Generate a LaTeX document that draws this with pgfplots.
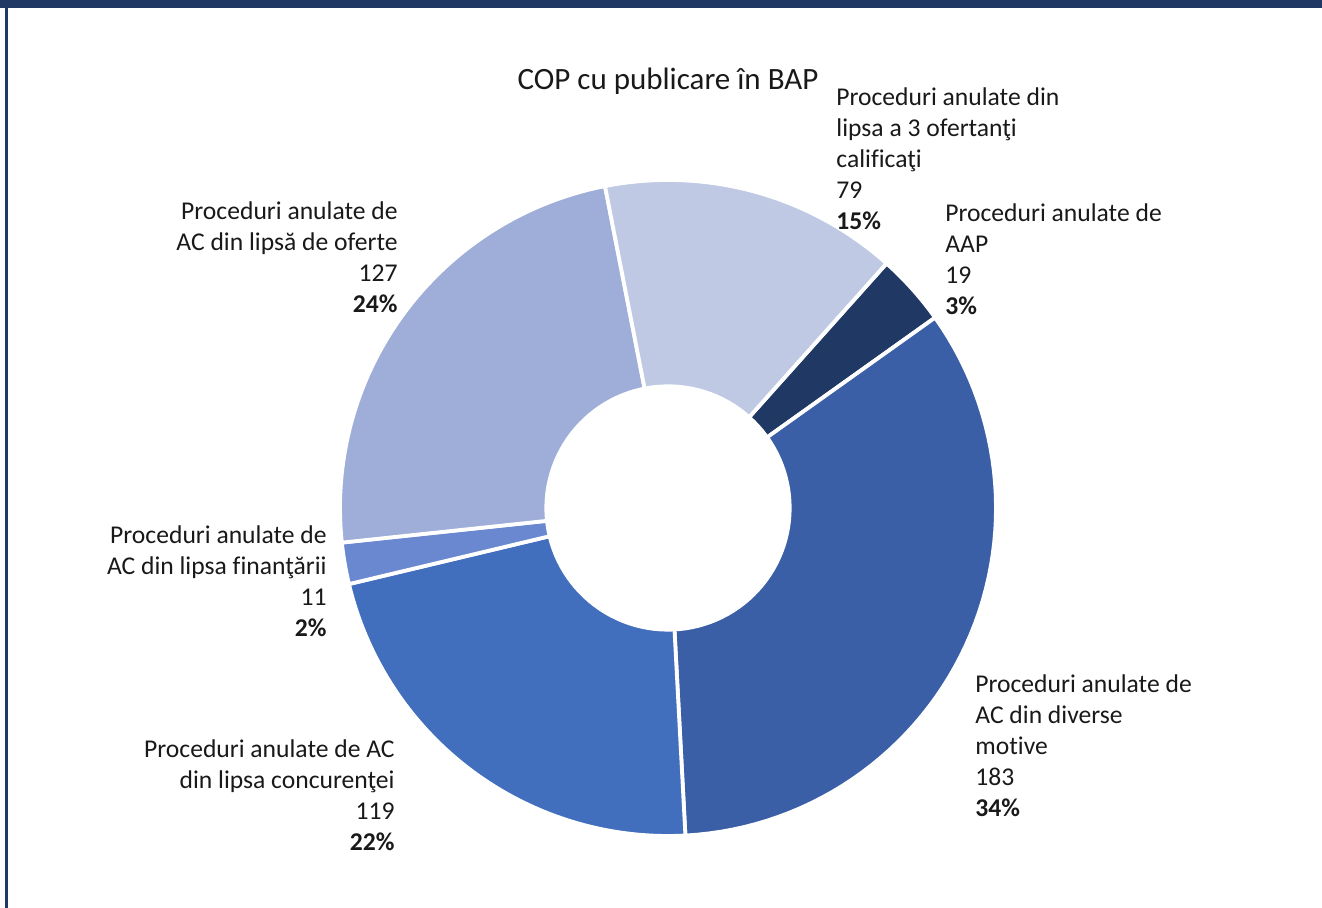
\documentclass[border=0pt]{standalone}
\usepackage{pgfplots}
\usepackage{pgfplotstable}
\pgfplotsset{compat=1.18}
\usepackage{fontspec}
\setmainfont{Carlito}[Ligatures={NoCommon}]
\definecolor{frame}{HTML}{203864}
\definecolor{cA}{HTML}{203864}
\definecolor{cB}{HTML}{3A5FA7}
\definecolor{cC}{HTML}{426EBE}
\definecolor{cD}{HTML}{6A88CF}
\definecolor{cE}{HTML}{9FAED8}
\definecolor{cF}{HTML}{BFC9E4}
\pgfplotstableread{
label value
AAP 19
Diverse 183
Concurenta 119
Finantare 11
Oferte 127
Ofertanti 79
}\piedata
\begin{document}
\begin{tikzpicture}
\pgfplotstablegetelem{0}{value}\of\piedata\pgfmathsetmacro\vA{\pgfplotsretval}
\pgfplotstablegetelem{1}{value}\of\piedata\pgfmathsetmacro\vB{\pgfplotsretval}
\pgfplotstablegetelem{2}{value}\of\piedata\pgfmathsetmacro\vC{\pgfplotsretval}
\pgfplotstablegetelem{3}{value}\of\piedata\pgfmathsetmacro\vD{\pgfplotsretval}
\pgfplotstablegetelem{4}{value}\of\piedata\pgfmathsetmacro\vE{\pgfplotsretval}
\pgfplotstablegetelem{5}{value}\of\piedata\pgfmathsetmacro\vF{\pgfplotsretval}
\pgfmathsetmacro\tot{\vA+\vB+\vC+\vD+\vE+\vF}
\pgfmathsetmacro\aA{48.2}
\pgfmathsetmacro\aB{\aA-360*(\vA/\tot)}
\pgfmathsetmacro\aC{\aB-360*(\vB/\tot)}
\pgfmathsetmacro\aD{\aC-360*(\vC/\tot)}
\pgfmathsetmacro\aE{\aD-360*(\vD/\tot)}
\pgfmathsetmacro\aF{\aE-360*(\vE/\tot)}
\pgfmathsetmacro\aG{\aF-360*(\vF/\tot)}
\begin{axis}[width=661pt,height=454pt,scale only axis,
  xmin=0,xmax=1322,ymin=0,ymax=908,axis lines=none,clip=false,
  samples=60]
\path (axis cs:0,0) rectangle (axis cs:1322,908);
\fill[frame] (axis cs:0,900) rectangle (axis cs:1322,908);
\fill[frame] (axis cs:5,0) rectangle (axis cs:8,908);
\addplot[fill=cA,draw=white,line width=1.9pt,domain=\aB:\aA] ({668+328*cos(x)},{400+328*sin(x)}) -- (axis cs:668,400) -- cycle;
\addplot[fill=cB,draw=white,line width=1.9pt,domain=\aC:\aB] ({668+328*cos(x)},{400+328*sin(x)}) -- (axis cs:668,400) -- cycle;
\addplot[fill=cC,draw=white,line width=1.9pt,domain=\aD:\aC] ({668+328*cos(x)},{400+328*sin(x)}) -- (axis cs:668,400) -- cycle;
\addplot[fill=cD,draw=white,line width=1.9pt,domain=\aE:\aD] ({668+328*cos(x)},{400+328*sin(x)}) -- (axis cs:668,400) -- cycle;
\addplot[fill=cE,draw=white,line width=1.9pt,domain=\aF:\aE] ({668+328*cos(x)},{400+328*sin(x)}) -- (axis cs:668,400) -- cycle;
\addplot[fill=cF,draw=white,line width=1.9pt,domain=\aG:\aF] ({668+328*cos(x)},{400+328*sin(x)}) -- (axis cs:668,400) -- cycle;
\addplot[fill=white,draw=white,line width=1.6pt,domain=0:360,samples=120] ({668+122*cos(x)},{400+122*sin(x)}) -- cycle;
\begin{scope}[every node/.style={font=\fontsize{12.8}{15.6}\selectfont,inner sep=0pt,text=black!90}]
\node[anchor=base] at (axis cs:668,818) {\fontsize{15.5}{18}\selectfont COP cu publicare în BAP};
\node[anchor=north west,align=left] at (axis cs:836,821) {Proceduri anulate din\\lipsa a 3 ofertanţi\\calificaţi\\79\\\textbf{15\%}};
\node[anchor=north west,align=left] at (axis cs:945,705) {Proceduri anulate de\\AAP\\19\\\textbf{3\%}};
\node[anchor=north west,align=left] at (axis cs:975,234) {Proceduri anulate de\\AC din diverse\\motive\\183\\\textbf{34\%}};
\node[anchor=north east,align=right] at (axis cs:395,169) {Proceduri anulate de AC\\din lipsa concurenţei\\119\\\textbf{22\%}};
\node[anchor=north east,align=right] at (axis cs:327,383) {Proceduri anulate de\\AC din lipsa finanţării\\11\\\textbf{2\%}};
\node[anchor=north east,align=right] at (axis cs:398,707) {Proceduri anulate de\\AC din lipsă de oferte\\127\\\textbf{24\%}};
\end{scope}
\end{axis}
\end{tikzpicture}
\end{document}
